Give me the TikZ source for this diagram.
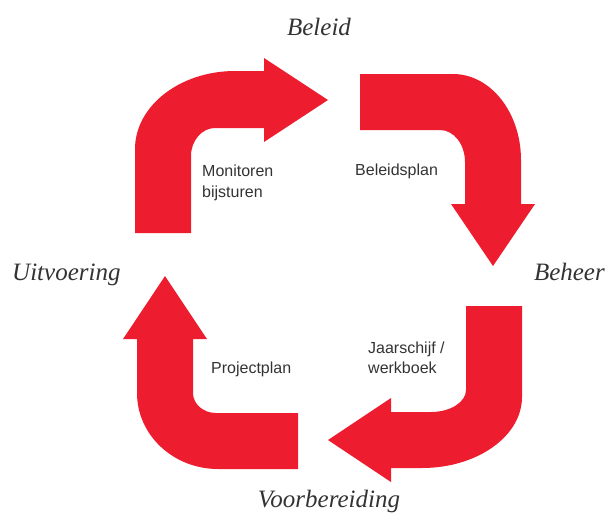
\documentclass[tikz,border=0pt]{standalone}
\usepackage{fontspec}
\setmainfont{Liberation Serif}
\newfontfamily\labelsans{Liberation Sans}
\definecolor{arrowred}{RGB}{237,28,46}
\definecolor{textgray}{RGB}{51,51,51}
\begin{document}
\begin{tikzpicture}[x=1pt,y=-1pt,
  bigarrow/.style={fill=arrowred,draw=none},
  phase/.style={font=\fontsize{25}{30}\selectfont\itshape,text=textgray,inner sep=0pt},
  note/.style={font=\labelsans\fontsize{16}{21}\selectfont,text=textgray,inner sep=0pt,anchor=base west}]
\useasboundingbox (0,0) rectangle (608,515);
% arrow 1: Uitvoering -> Beleid
\fill[bigarrow] (135,233) -- (135,149) .. controls (135,106) and (180,71) .. (235,71)
  -- (264,71) -- (264,58) -- (328,100) -- (264,142) -- (264,128) -- (215,128)
  .. controls (202,128) and (191,140.5) .. (191,156) -- (191,233) -- cycle;
% arrow 2: Beleid -> Beheer
\fill[bigarrow] (360,74) -- (453,74) .. controls (490.6,74) and (521,112.5) .. (521,160)
  -- (521,204) -- (535,204) -- (493,266) -- (451,204) -- (465,204) -- (465,162)
  .. controls (465,144.3) and (453.8,130) .. (440,130) -- (360,130) -- cycle;
% arrow 3: Beheer -> Voorbereiding
\fill[bigarrow] (466,306) -- (522,306) -- (522,397) .. controls (522,436.2) and (477.2,468) .. (422,468)
  -- (391,468) -- (391,482) -- (328,440) -- (391,398) -- (391,412) -- (431,412)
  .. controls (450.3,412) and (466,402.2) .. (466,390) -- cycle;
% arrow 4: Voorbereiding -> Uitvoering
\fill[bigarrow] (298,413) -- (298,469) -- (218,469) .. controls (173.3,469) and (137,435) .. (137,393)
  -- (137,339) -- (123,339) -- (165,276) -- (207,339) -- (193,339) -- (193,393)
  .. controls (193,404) and (203.3,413) .. (216,413) -- cycle;
% phase labels
\node[phase,anchor=base] (beleid) at (319,35) {Beleid};
\node[phase,anchor=base west] (uitvoering) at (12,280) {Uitvoering};
\node[phase,anchor=base east] (beheer) at (605,280) {Beheer};
\node[phase,anchor=base] (voorbereiding) at (329,507) {Voorbereiding};
% notes
\node[note] (mon1) at (202,176) {Monitoren};
\node[note] (mon2) at (202,197) {bijsturen};
\node[note] (bplan) at (355,175) {Beleidsplan};
\node[note] (jaar1) at (368,353) {Jaarschijf /};
\node[note] (jaar2) at (368,373) {werkboek};
\node[note] (pplan) at (211,373) {Projectplan};
\end{tikzpicture}
\end{document}
